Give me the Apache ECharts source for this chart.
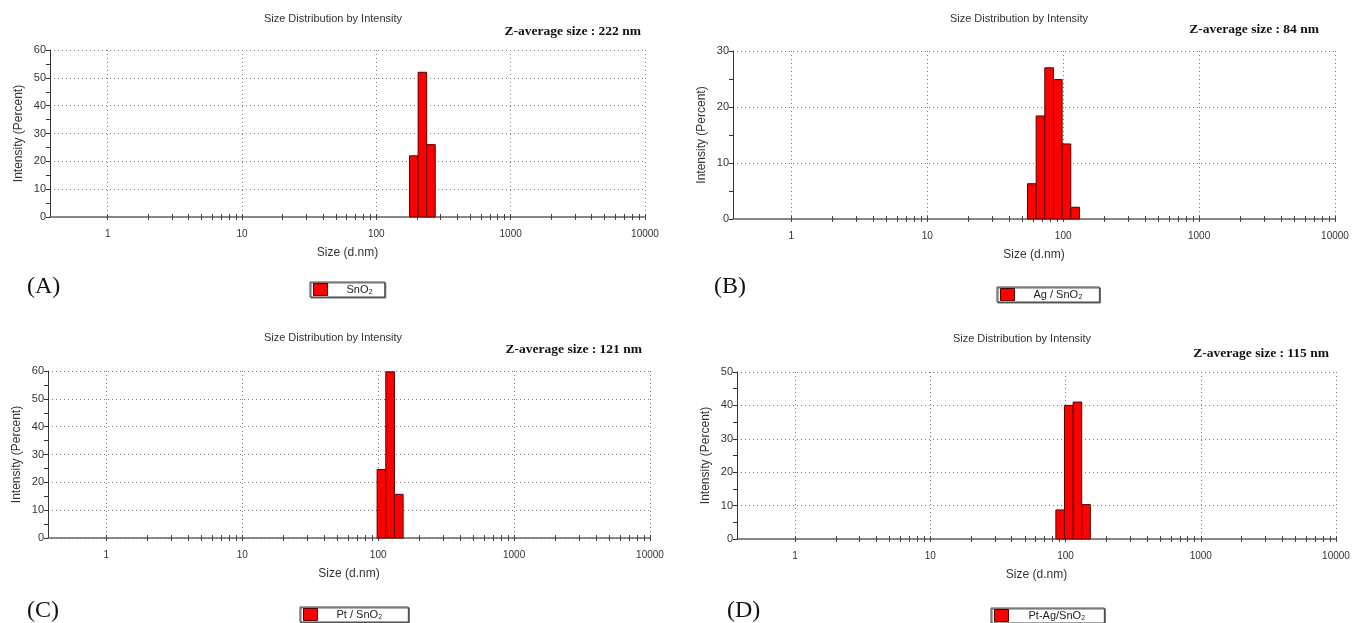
<!DOCTYPE html>
<html>
<head>
<meta charset="utf-8">
<title>Size Distribution by Intensity</title>
<script src="https://cdn.jsdelivr.net/npm/echarts@6/dist/echarts.min.js"></script>
<style>
  html, body { margin: 0; padding: 0; background: #fff; }
  #chart { width: 1353px; height: 623px; }
</style>
</head>
<body>
<div id="chart"></div>
<script>
// Malvern size classes (nm) and intensity (%)
const sizesA = [190.1, 220.2, 255.0];
const intensityA = [22.0, 52.0, 26.0];

const sizesB = [58.77, 68.06, 78.82, 91.28, 105.7, 122.4];
const intensityB = [6.3, 18.4, 27.0, 24.9, 13.4, 2.1];

const sizesC = [105.7, 122.4, 141.8];
const intensityC = [24.6, 59.7, 15.7];

const sizesD = [91.28, 105.7, 122.4, 141.8];
const intensityD = [8.7, 40.0, 41.0, 10.3];

const sampleNames = ['SnO\u2082', 'Ag / SnO\u2082', 'Pt / SnO\u2082', 'Pt-Ag/SnO\u2082'];
const zAverage = [222, 84, 121, 115];
const panelLetters = ['(A)', '(B)', '(C)', '(D)'];
const yMax = [60, 30, 60, 50];
const xTickLabels = [1, 10, 100, 1000, 10000];
const tickDecades = [1, 10, 100, 1000];
const tickSteps = [1, 2, 3, 4, 5, 6, 7, 8, 9];

const xMin = 0.372;
const xMax = 10000;
// 70 classes from 0.4 to 10000 nm, bars span half a class either side
const halfStep = Math.sqrt(Math.pow(10000 / 0.4, 1 / 69));

const minorTicks = [];
tickDecades.forEach(d => tickSteps.forEach(s => minorTicks.push(d * s)));
minorTicks.push(10000);

const panels = [
    { sizes: sizesA, values: intensityA, grid: { left: 50, top: 50, width: 595, height: 167 },
      title: [333, 19], zavg: [641, 32], letter: [27, 287],
      legend: { left: 310, top: 282, padL: 14, padR: 12 } },
    { sizes: sizesB, values: intensityB, grid: { left: 733, top: 51, width: 602, height: 168 },
      title: [1019, 19], zavg: [1319, 30], letter: [714, 287],
      legend: { left: 997, top: 287, padL: 14, padR: 17 } },
    { sizes: sizesC, values: intensityC, grid: { left: 48, top: 371, width: 602, height: 167 },
      title: [333, 338], zavg: [642, 350], letter: [27, 611],
      legend: { left: 300, top: 607, padL: 14, padR: 26 } },
    { sizes: sizesD, values: intensityD, grid: { left: 737, top: 372, width: 599, height: 167 },
      title: [1022, 339], zavg: [1329, 354], letter: [727, 611],
      legend: { left: 991, top: 608, padL: 15, padR: 19 } }
];

const dotted = { color: '#7a7a7a', width: 1, type: [1, 3] };

const grids = [], xAxes = [], yAxes = [], series = [], legends = [], graphics = [];

panels.forEach(function (p, i) {
    grids.push(Object.assign({ containLabel: false }, p.grid));

    xAxes.push({
        type: 'log', logBase: 10, gridIndex: i, min: xMin, max: xMax, position: 'bottom',
        name: 'Size (d.nm)', nameLocation: 'middle', nameGap: 30,
        nameTextStyle: { fontFamily: 'Liberation Sans', fontSize: 12, color: '#333' },
        axisLine: { lineStyle: { color: '#666', width: 1.5 } },
        axisTick: { show: false },
        axisLabel: {
            fontFamily: 'Liberation Sans', fontSize: 10, color: '#333', margin: 12,
            showMinLabel: false,
            formatter: v => xTickLabels.indexOf(Math.round(v)) >= 0 ? String(Math.round(v)) : ''
        },
        splitLine: { show: true, lineStyle: dotted }
    });
    // overlay axis that only carries the small ticks at 1..9 of each decade
    xAxes.push({
        type: 'log', logBase: 10, gridIndex: i, min: xMin, max: xMax, position: 'bottom', offset: -3,
        axisLine: { show: false },
        axisTick: { show: true, customValues: minorTicks, length: 6, lineStyle: { color: '#444', width: 1 } },
        axisLabel: { show: false },
        splitLine: { show: false }
    });

    yAxes.push({
        type: 'value', gridIndex: i, min: 0, max: yMax[i], interval: 10,
        name: 'Intensity (Percent)', nameLocation: 'middle', nameGap: 25,
        nameTextStyle: { fontFamily: 'Liberation Sans', fontSize: 12, color: '#333' },
        axisLine: { show: true, lineStyle: { color: '#333', width: 1 } },
        axisTick: { show: true, length: 4, lineStyle: { color: '#333' } },
        minorTick: { show: true, splitNumber: 2, length: 4, lineStyle: { color: '#333' } },
        axisLabel: { fontFamily: 'Liberation Sans', fontSize: 11, color: '#333', margin: 4 },
        splitLine: { show: true, lineStyle: dotted }
    });

    series.push({
        name: sampleNames[i],
        type: 'custom',
        xAxisIndex: i * 2,
        yAxisIndex: i,
        itemStyle: { color: '#ff0000', borderColor: '#5a0000' },
        encode: { x: 0, y: 1 },
        data: p.sizes.map((s, k) => [s, p.values[k]]),
        renderItem: function (params, api) {
            const c = api.value(0);
            const v = api.value(1);
            const p0 = api.coord([c / halfStep, v]);
            const p1 = api.coord([c * halfStep, 0]);
            return {
                type: 'rect',
                shape: { x: p0[0], y: p0[1], width: p1[0] - p0[0], height: p1[1] - p0[1] },
                style: { fill: '#ff0000', stroke: '#5a0000', lineWidth: 1 }
            };
        }
    });

    legends.push({
        left: p.legend.left, top: p.legend.top,
        data: [{ name: sampleNames[i], icon: 'rect' }],
        itemWidth: 14, itemHeight: 12,
        itemStyle: { color: '#ff0000', borderColor: '#5a0000', borderWidth: 1 },
        padding: [1, p.legend.padR, 1, 3],
        borderColor: '#444', borderWidth: 1,
        shadowColor: '#666', shadowOffsetX: 1, shadowOffsetY: 1, shadowBlur: 0,
        backgroundColor: '#fff',
        selectedMode: false,
        textStyle: { fontFamily: 'Liberation Sans', fontSize: 11, color: '#222', padding: [0, 0, 0, p.legend.padL] }
    });

    graphics.push({
        type: 'text', x: p.title[0], y: p.title[1],
        style: { text: 'Size Distribution by Intensity', textAlign: 'center', textVerticalAlign: 'middle',
                 font: '11px "Liberation Sans"', fill: '#333' }
    });
    graphics.push({
        type: 'text', x: p.zavg[0], y: p.zavg[1],
        style: { text: 'Z-average size : ' + zAverage[i] + ' nm', textAlign: 'right', textVerticalAlign: 'middle',
                 font: 'bold 13.5px "Liberation Serif"', fill: '#111' }
    });
    graphics.push({
        type: 'text', x: p.letter[0], y: p.letter[1],
        style: { text: panelLetters[i], textAlign: 'left', textVerticalAlign: 'middle',
                 font: '24px "Liberation Serif"', fill: '#111' }
    });
});

const chart = echarts.init(document.getElementById('chart'));
chart.setOption({
    animation: false,
    backgroundColor: '#fff',
    grid: grids,
    xAxis: xAxes,
    yAxis: yAxes,
    legend: legends,
    series: series,
    graphic: graphics
});
</script>
</body>
</html>
